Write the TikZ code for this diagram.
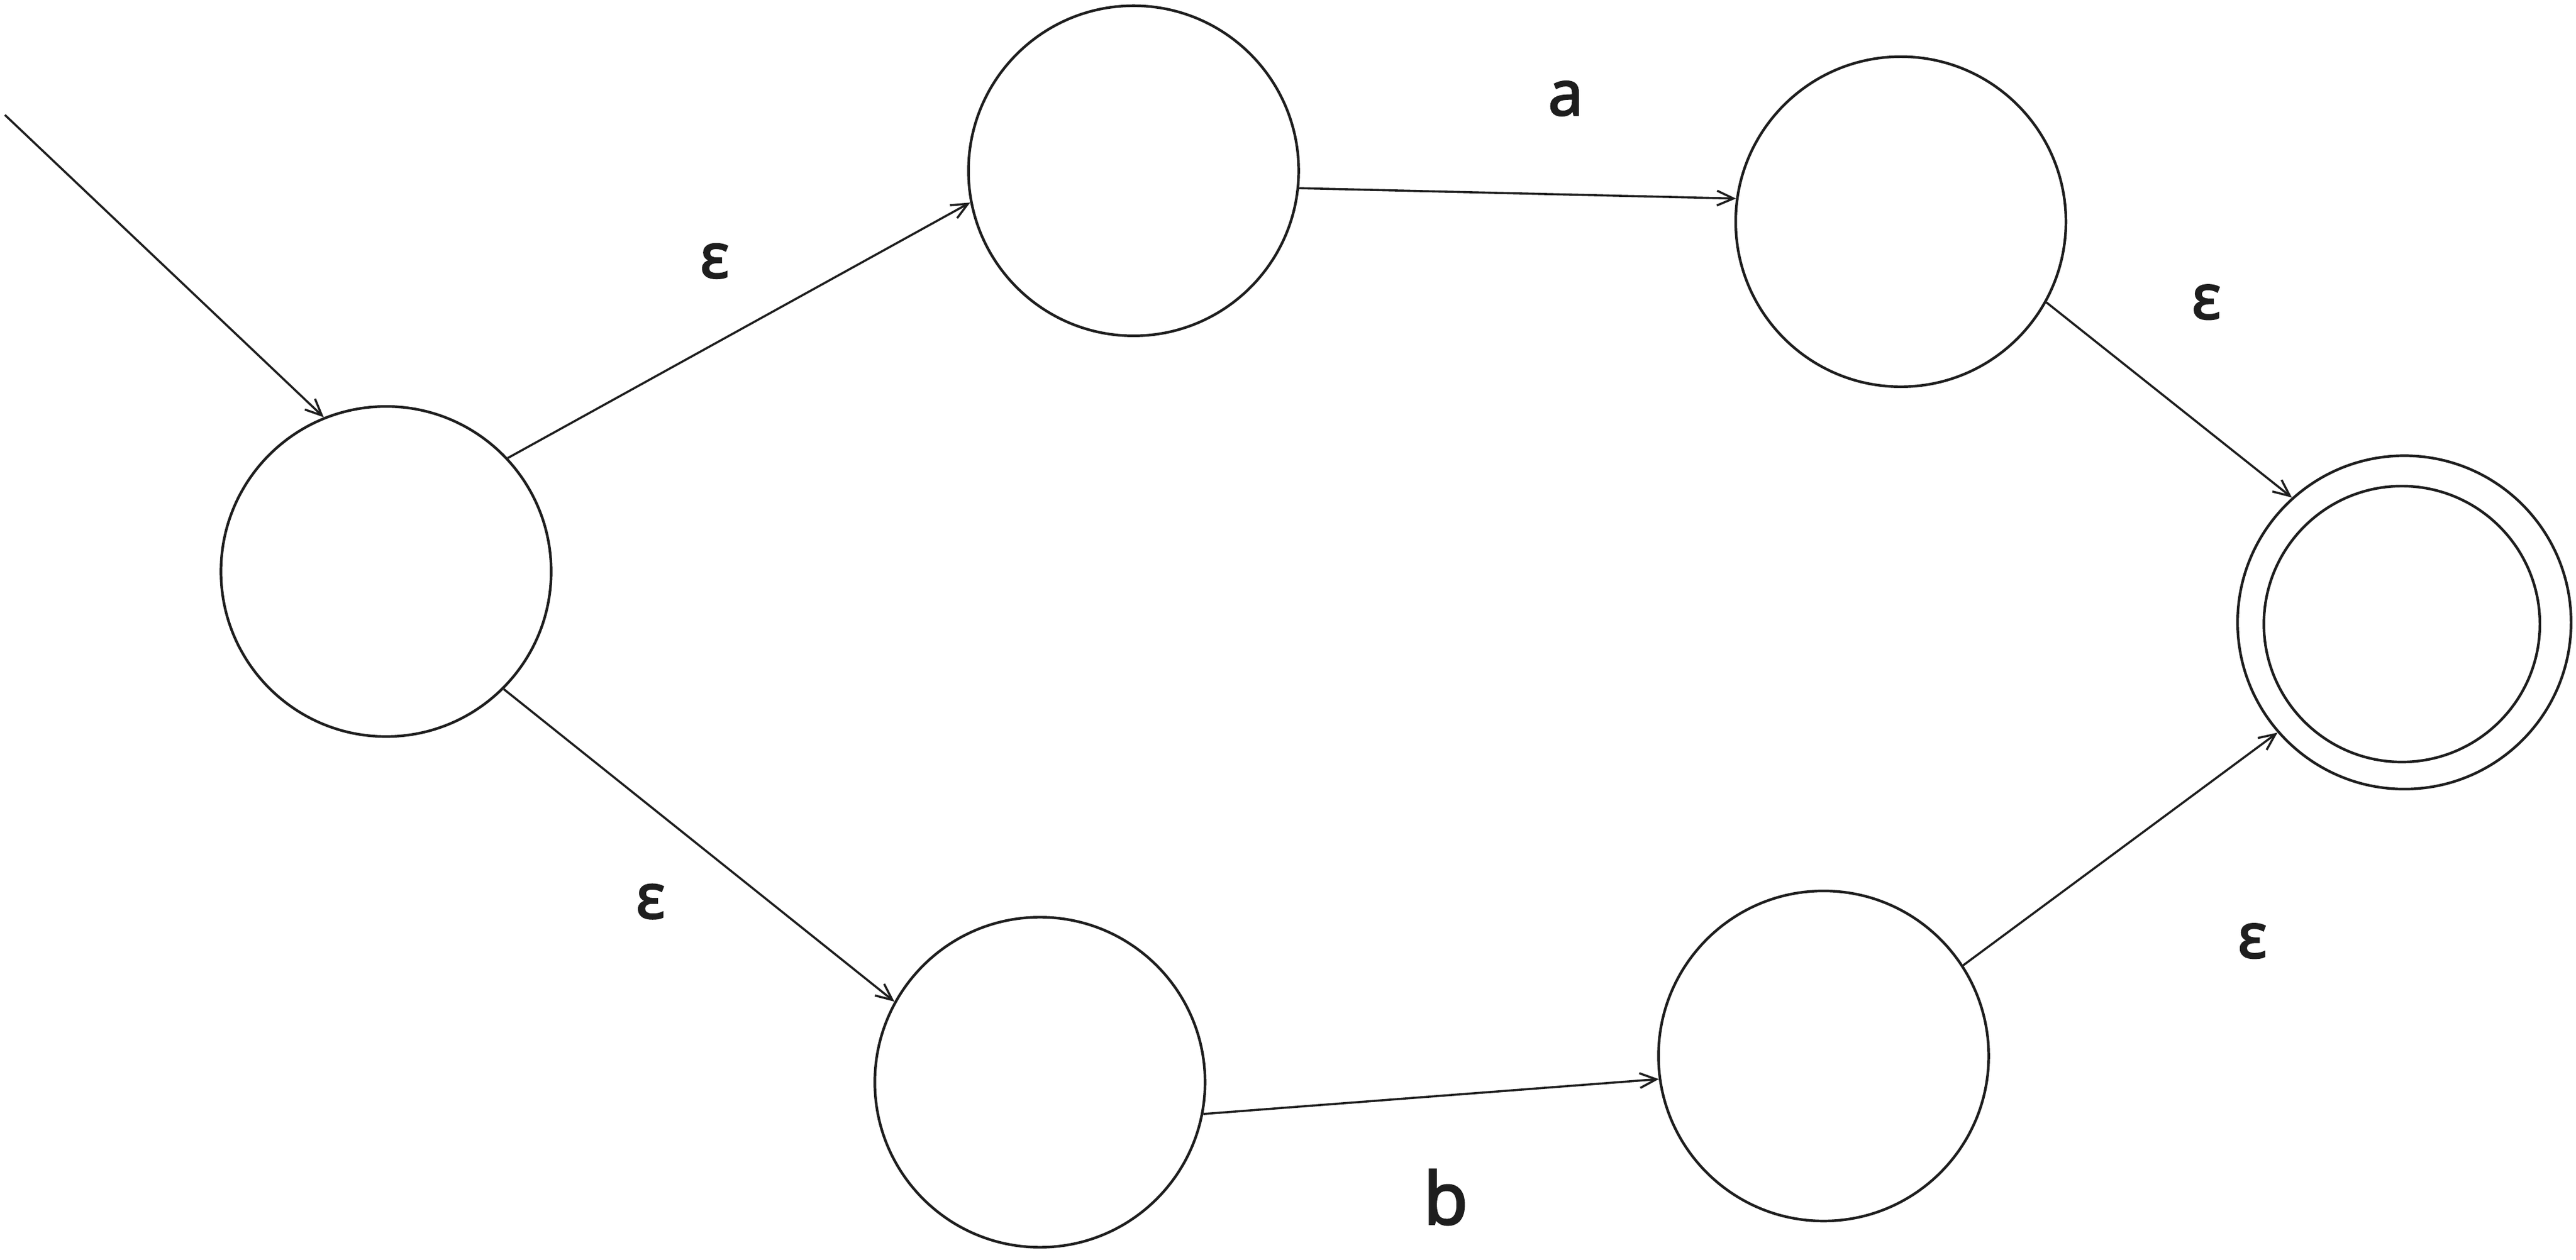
\documentclass[tikz,border=0pt]{standalone}
\usepackage{fontspec}
\setmainfont{Noto Sans}
\newfontfamily\lblfont[FakeBold=2.5]{Noto Sans}
\usetikzlibrary{arrows.meta}
\definecolor{ink}{HTML}{1E1E1E}
\tikzset{
  state/.style={circle, draw=ink, line width=1.6pt, minimum size=201pt, inner sep=0pt},
  edge/.style={draw=ink, line width=1.3pt, -{Straight Barb[length=10pt,width=9pt,line width=1.3pt]}},
  lbl/.style={text=ink, font=\lblfont\fontsize{38}{40}\selectfont, inner sep=0pt}
}
\begin{document}
\begin{tikzpicture}[x=1pt,y=-1pt]
\useasboundingbox (0,0) rectangle (1568,767);
\node[state] (q0) at (235,348) {};
\node[state] (q1) at (690,104) {};
\node[state] (q2) at (1157,135) {};
\node[state, minimum size=203pt] (q3) at (1463.5,379) {};
\node[state, minimum size=168pt] (q3in) at (1462,380) {};
\node[state] (q4) at (633,659) {};
\node[state] (q5) at (1110,643) {};
\coordinate (start) at (3,70);

\draw[edge] (start) -- (q0.112);
\draw[edge] (q0.43) -- (q1.191);
\draw[edge] (q1.-6) -- (q2.172);
\draw[edge] (q2.-29) -- (q3.132);
\draw[edge] (q0.-45) -- (q4.151);
\draw[edge] (q4.-11) -- (q5.188);
\draw[edge] (q5.33) -- (q3.221);

\node[lbl] (l01) at (435,159) {ε};
\node[lbl] (l12) at (953,60) {a};
\node[lbl] (l23) at (1343,184) {ε};
\node[lbl] (l04) at (396,549) {ε};
\node[lbl, font=\lblfont\fontsize{44}{46}\selectfont] (l45) at (880,729) {b};
\node[lbl] (l53) at (1371,573) {ε};
\end{tikzpicture}
\end{document}
